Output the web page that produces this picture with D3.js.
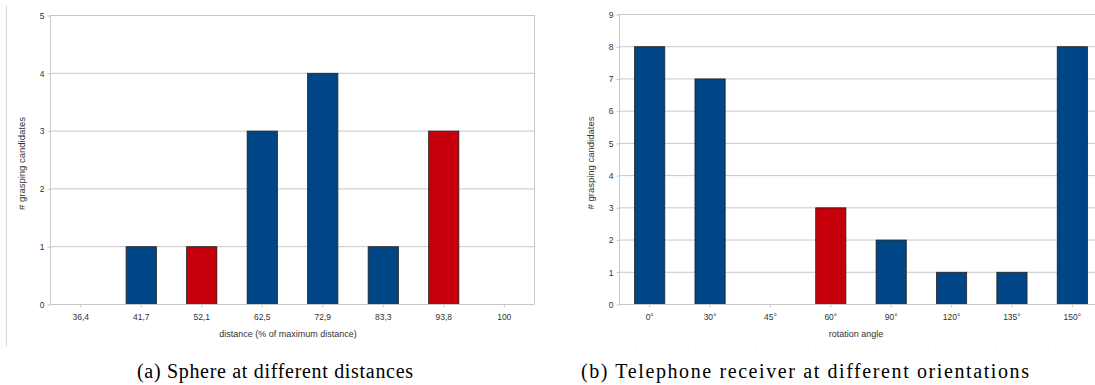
<!DOCTYPE html>
<html><head><meta charset="utf-8">
<script src="https://cdn.jsdelivr.net/npm/d3@7"></script>
<style>
html,body{margin:0;padding:0;background:#fff;overflow:hidden}
text{font-family:"Liberation Sans",Arial,sans-serif}
</style></head><body>
<svg id="c" width="1095" height="385"></svg>
<script>
const distCategories = ["36,4","41,7","52,1","62,5","72,9","83,3","93,8","100"];
const distValues = [0,1,1,3,4,1,3,0];
const distHighlight = [false,false,true,false,false,false,true,false];
const distTicks = [0,1,2,3,4,5];

const angleCategories = ["0°","30°","45°","60°","90°","120°","135°","150°"];
const angleValues = [8,7,0,3,2,1,1,8];
const angleHighlight = [false,false,false,true,false,false,false,false];
const angleTicks = [0,1,2,3,4,5,6,7,8,9];

const BLUE = "#004586", RED = "#c5000b", GRID = "#c8c8c8", TXT = "#333";

const svg = d3.select("#c");

function panel(o){
  const g = svg.append("g");
  const x = d3.scaleBand().domain(o.cats).range([o.x0,o.x1]).paddingInner(0.5).paddingOuter(0.25);
  const y = d3.scaleLinear().domain([0,o.ymax]).range([o.y0,o.y1]);
  g.append("g").selectAll("line").data(o.ticks).join("line")
    .attr("x1",o.x0).attr("x2",o.x1).attr("y1",d=>y(d)+0.5).attr("y2",d=>y(d)+0.5)
    .attr("stroke",GRID).attr("stroke-width",1);
  g.append("line").attr("x1",o.x1+0.5).attr("x2",o.x1+0.5).attr("y1",o.y1).attr("y2",o.y0)
    .attr("stroke",GRID);
  g.append("g").selectAll("rect").data(o.vals.map((v,i)=>({v,i}))).join("rect")
    .filter(d=>d.v>0)
    .attr("x",d=>x(o.cats[d.i])+0.5).attr("width",x.bandwidth())
    .attr("y",d=>y(d.v)+0.5).attr("height",d=>y(0)-y(d.v))
    .attr("fill",d=>o.hi[d.i]?RED:BLUE).attr("stroke","#222").attr("stroke-width",0.8);
  const ya = g.append("g").attr("transform",`translate(${o.x0+0.5},0.5)`)
    .call(d3.axisLeft(y).tickValues(o.ticks).tickSize(3).tickPadding(3).tickFormat(d3.format("d")));
  ya.select(".domain").attr("stroke",GRID).attr("d",`M0,${o.y0}V${o.y1}`);
  ya.selectAll(".tick line").attr("stroke",GRID);
  ya.selectAll("text").attr("fill",TXT).style("font-size","8.5px").style("font-family","Liberation Sans, Arial, sans-serif");
  const xa = g.append("g").attr("transform",`translate(0.5,${o.y0+0.5})`)
    .call(d3.axisBottom(x).tickSize(3).tickPadding(6));
  xa.select(".domain").attr("stroke",GRID).attr("d",`M${o.x0},0H${o.x1}`);
  xa.selectAll(".tick line").attr("stroke",GRID);
  xa.selectAll("text").attr("fill",TXT).style("font-size","8.5px").style("font-family","Liberation Sans, Arial, sans-serif");
  g.append("text").attr("x",o.xtx).attr("y",o.y0+33).attr("text-anchor","middle")
    .attr("fill",TXT).style("font-size","9px").text(o.xtitle);
  g.append("text").attr("transform",`translate(${o.ytx},${(o.y0+o.y1)/2+4}) rotate(-90)`)
    .attr("text-anchor","middle").attr("fill",TXT).style("font-size","9.5px").text(o.ytitle);
  g.append("text").attr("x",o.capx).attr("y",378).attr("text-anchor","middle")
    .attr("textLength",o.capw).attr("lengthAdjust","spacing")
    .style("font-family","Liberation Serif, Times New Roman, serif").style("font-size","20px")
    .attr("fill","#000").text(o.caption);
  if(o.frame){
    g.append("line").attr("x1",o.frame+0.5).attr("x2",o.frame+0.5).attr("y1",5).attr("y2",347).attr("stroke","#d8d8d8");
  }
  g.append("g").selectAll("rect").data(d3.range(o.dots.length)).join("rect")
    .attr("x",i=>o.dots[i]).attr("y",346.5).attr("width",1).attr("height",1).attr("fill","#ddd");
}

panel({cats:distCategories, vals:distValues, hi:distHighlight, ticks:distTicks, ymax:5,
  x0:50, x1:534, y0:304, y1:15, xtitle:"distance (% of maximum distance)", xtx:288, ytx:25,
  ytitle:"# grasping candidates", caption:"(a)  Sphere at different distances", capx:275, capw:276, frame:6,
  dots:[66,126,186,246,306,366,426,486]});
panel({cats:angleCategories, vals:angleValues, hi:angleHighlight, ticks:angleTicks, ymax:9,
  x0:619, x1:1102, y0:304, y1:14, xtitle:"rotation angle", xtx:856, ytx:594,
  ytitle:"# grasping candidates", caption:"(b)  Telephone receiver at different orientations", capx:805, capw:448, frame:null,
  dots:[635,695,755,815,875,935,995,1055]});
</script>
</body></html>
